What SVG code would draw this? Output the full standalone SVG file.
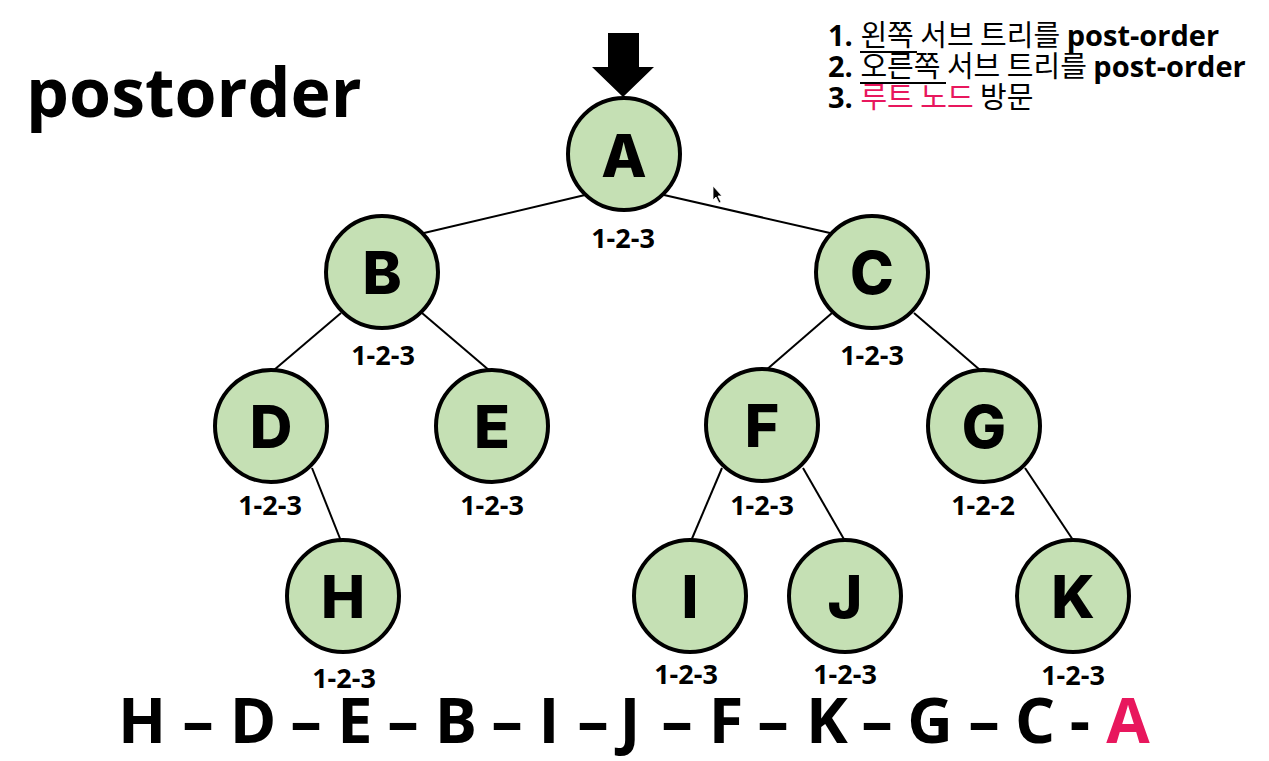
<svg xmlns="http://www.w3.org/2000/svg" width="1269" height="761" viewBox="0 0 1269 761">
<style>
.node circle{fill:#c5e0b4;stroke:#000;stroke-width:4}
.node .ltr{font-family:Inter,"Open Sans",sans-serif;font-weight:800;font-size:59px;text-anchor:middle;fill:#000}
.node .lbl{font-family:"Open Sans","Liberation Sans",sans-serif;font-weight:700;font-size:27px;text-anchor:middle;fill:#000}
.edges line{stroke:#000;stroke-width:2}
.seq text{font-family:"Open Sans","Liberation Sans",sans-serif;font-weight:700;font-size:63px;text-anchor:middle;fill:#000}
.seq text.pink{fill:#e8175d}
.b{font-family:"Open Sans","Liberation Sans",sans-serif;font-weight:700}
.k{font-family:"Noto Sans CJK KR",sans-serif;font-weight:400}
.pink{fill:#e8175d}
.ul{stroke:#000;stroke-width:2}
</style>
<rect width="1269" height="761" fill="#fff"/>
<text x="26" y="117" font-family="'Open Sans','Liberation Sans',sans-serif" font-weight="700" font-size="68" fill="#000">postorder</text>
<g id="steps" font-size="29" fill="#000">
<text x="828" y="46"><tspan class="b">1. </tspan><tspan class="k">왼쪽</tspan><tspan class="k"> 서브 트리를 </tspan><tspan class="b">post-order</tspan></text>
<text x="828" y="77"><tspan class="b">2. </tspan><tspan class="k">오른쪽</tspan><tspan class="k"> 서브 트리를 </tspan><tspan class="b">post-order</tspan></text>
<text x="828" y="108"><tspan class="b">3. </tspan><tspan class="k pink">루트 노드</tspan><tspan class="k"> 방문</tspan></text>
<line class="ul" x1="860" y1="52" x2="917" y2="52"/>
<line class="ul" x1="860" y1="83" x2="946" y2="83"/>
</g>
<polygon id="pointer" points="608,33 639,33 639,67 654,67 623,97 592,67 608,67" fill="#000"/>
<path id="cursor" d="M713,186 L713,200 L716,197 L719,203 L721,202 L718,196 L722,196 Z" fill="#000" stroke="#fff" stroke-width="0.8"/>
<g class="edges" id="edges">
<line x1="585" y1="195" x2="424" y2="233"/>
<line x1="664" y1="195" x2="830" y2="233"/>
<line x1="341" y1="313" x2="274" y2="370"/>
<line x1="422" y1="313" x2="490" y2="371"/>
<line x1="832" y1="313" x2="765" y2="371"/>
<line x1="914" y1="313" x2="980" y2="370"/>
<line x1="312" y1="468" x2="341" y2="541"/>
<line x1="722" y1="468" x2="691" y2="541"/>
<line x1="803" y1="468" x2="845" y2="541"/>
<line x1="1025" y1="468" x2="1073" y2="540"/>
</g>
<g class="node" id="node-A"><circle cx="624" cy="154" r="56"/><text class="ltr" x="624" y="177">A</text><text class="lbl" x="623" y="248">1-2-3</text></g>
<g class="node" id="node-B"><circle cx="382" cy="272" r="56"/><text class="ltr" x="382" y="294">B</text><text class="lbl" x="383" y="365">1-2-3</text></g>
<g class="node" id="node-C"><circle cx="872" cy="272" r="56"/><text class="ltr" x="872" y="294">C</text><text class="lbl" x="872" y="365">1-2-3</text></g>
<g class="node" id="node-D"><circle cx="271" cy="426" r="56"/><text class="ltr" x="271" y="448">D</text><text class="lbl" x="270" y="515">1-2-3</text></g>
<g class="node" id="node-E"><circle cx="492" cy="426" r="56"/><text class="ltr" x="492" y="448">E</text><text class="lbl" x="492" y="515">1-2-3</text></g>
<g class="node" id="node-F"><circle cx="762" cy="425" r="56"/><text class="ltr" x="762" y="447">F</text><text class="lbl" x="762" y="515">1-2-3</text></g>
<g class="node" id="node-G"><circle cx="984" cy="426" r="56"/><text class="ltr" x="984" y="448">G</text><text class="lbl" x="983" y="515">1-2-2</text></g>
<g class="node" id="node-H"><circle cx="343" cy="596" r="56"/><text class="ltr" x="343" y="618">H</text><text class="lbl" x="344" y="688">1-2-3</text></g>
<g class="node" id="node-I"><circle cx="690" cy="596" r="56"/><text class="ltr" x="690" y="618">I</text><text class="lbl" x="686" y="684">1-2-3</text></g>
<g class="node" id="node-J"><circle cx="845" cy="596" r="56"/><text class="ltr" x="845" y="618">J</text><text class="lbl" x="845" y="684">1-2-3</text></g>
<g class="node" id="node-K"><circle cx="1073" cy="596" r="56"/><text class="ltr" x="1073" y="618">K</text><text class="lbl" x="1073" y="685">1-2-3</text></g>
<g class="seq" id="sequence">
<text x="142" y="743">H</text><text x="198" y="743">–</text>
<text x="253" y="743">D</text><text x="306" y="743">–</text>
<text x="355" y="743">E</text><text x="403" y="743">–</text>
<text x="456" y="743">B</text><text x="507" y="743">–</text>
<text x="549" y="743">I</text><text x="593" y="743">–</text>
<text x="630" y="743">J</text><text x="677" y="743">–</text>
<text x="726" y="743">F</text><text x="773" y="743">–</text>
<text x="827" y="743">K</text><text x="877" y="743">–</text>
<text x="930" y="743">G</text><text x="984" y="743">–</text>
<text x="1035" y="743">C</text><text x="1080" y="743">-</text>
<text x="1128" y="743" class="pink">A</text>
</g>
</svg>
